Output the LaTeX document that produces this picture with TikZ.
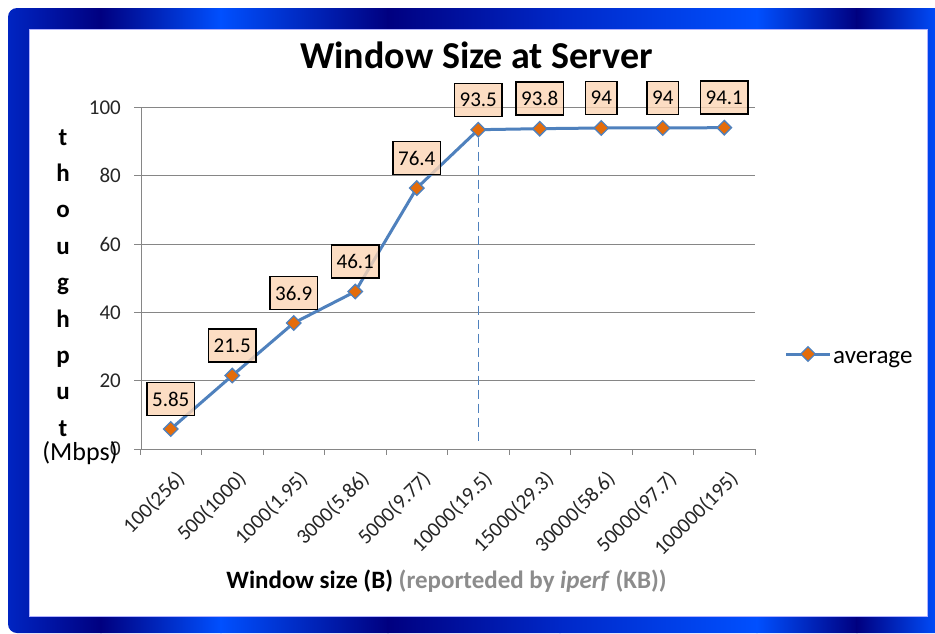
\documentclass[tikz,border=0pt]{standalone}
\usepackage{fontspec}
\setmainfont{Carlito}
\usetikzlibrary{shapes.geometric}
\definecolor{fdark}{HTML}{000080}
\definecolor{fbright}{HTML}{0050FF}
\definecolor{fmid}{HTML}{0028C8}
\definecolor{xlblue}{HTML}{4F81BD}
\definecolor{xlorange}{HTML}{E46C0A}
\definecolor{xlpeach}{HTML}{FCD5B5}
\definecolor{gridgray}{HTML}{868686}
\definecolor{titlegray}{HTML}{8C8C8C}
\definecolor{ticktext}{HTML}{262626}
\begin{document}
\begin{tikzpicture}[x=1pt,y=-1pt,
  marker/.style={diamond, draw=xlblue, fill=xlorange, line width=1.3pt, inner sep=0pt, minimum width=15pt, minimum height=15pt},
  datalabel/.style={draw=black, line width=1.4pt, fill=xlpeach, fill opacity=0.8, text opacity=1, font=\fontsize{21}{21}\selectfont, inner xsep=5pt, inner ysep=0pt, minimum height=33pt},
  gridline/.style={gridgray, line width=0.9pt},
  ytick/.style={anchor=east, inner sep=0pt, text=ticktext, font=\fontsize{21}{21}\selectfont},
  xtick/.style={anchor=north east, inner sep=0pt, rotate=45, text=ticktext, font=\fontsize{21}{21}\selectfont},
  ytitle/.style={anchor=base, inner sep=0pt, font=\fontsize{25}{25}\selectfont\bfseries},
  series/.style={xlblue, line width=3pt, line join=round}
]
\useasboundingbox (0,0) rectangle (935,633);
% blue frame
\begin{scope}
\clip[rounded corners=9pt] (8,8) rectangle (960,633);
\foreach \xa/\xb/\ca/\cb in {0/101/fmid/fdark, 101/221/fdark/fbright, 221/388/fbright/fdark, 388/560/fdark/fmid, 560/757/fmid/fbright, 757/857/fbright/fdark, 857/940/fdark/fbright}
  {\shade[left color=\ca, right color=\cb] (\xa-0.6,0) rectangle (\xb+0.6,640);}
\end{scope}
\fill[white] (29,29) rectangle (927,616);
\draw[blue!30!white, line width=1pt] (29,29) rectangle (927,616);
% title
\node[anchor=base, inner sep=0pt, font=\fontsize{38}{38}\selectfont\bfseries] (title) at (476.5,68) {Window Size at Server};
% grid and axes
\foreach \v in {20,40,60,80,100}{
  \draw[gridline] (134,{449-3.415*\v}) -- (755,{449-3.415*\v});
}
\foreach \v in {0,20,40,60,80,100}{
  \node[ytick] (yt\v) at (121,{449-3.415*\v}) {\v};
}
\draw[gridline] (141,449) -- (141,{449-3.415*100});
\draw[gridline] (134,449) -- (755,449);
\foreach \k in {0,...,10}{
  \draw[gridline] ({140+61.5*\k},449) -- ({140+61.5*\k},455);
}
% y axis title
\foreach \c [count=\j from 0] in {t,h,o,u,g,h,p,u,t}{
  \node[ytitle] (yl\j) at (63,{145+36.4*\j}) {\c};
}
\node[anchor=base, inner sep=0pt, font=\fontsize{26}{26}\selectfont] (mbps) at (80,460) {(Mbps)};
% data
\foreach \i/\v in {1/5.85,2/21.5,3/36.9,4/46.1,5/76.4,6/93.5,7/93.8,8/94,9/94,10/94.1}{
  \coordinate (p\i) at ({140+61.5*(\i-0.5)},{449-3.415*\v});
}
\draw[xlblue, line width=1.5pt, dash pattern=on 9pt off 5pt] (p6) ++(0,8) coordinate (dtop) -- (p6 |- 0,442) coordinate (dbot);
\draw[series] (p1) -- (p2) -- (p3) -- (p4) -- (p5) -- (p6) -- (p7) -- (p8) -- (p9) -- (p10);
\foreach \i/\v in {1/5.85,2/21.5,3/36.9,4/46.1,5/76.4,6/93.5,7/93.8,8/94,9/94,10/94.1}{
  \node[marker] (m\i) at (p\i) {};
  \node[datalabel] (l\i) at ([yshift=30pt]p\i) {\v};
}
% x tick labels
\foreach \i/\t in {1/100(256),2/500(1000),3/1000(1.95),4/3000(5.86),5/5000(9.77),6/10000(19.5),7/15000(29.3),8/30000(58.6),9/50000(97.7),10/100000(195)}{
  \node[xtick] (xt\i) at ({140+61.5*(\i-0.5)+4},469) {\t};
}
% x axis title
\node[anchor=base, inner sep=0pt, font=\fontsize{25}{25}\selectfont\bfseries] (xtitle) at (446.5,588)
  {Window size (B) \textcolor{titlegray}{(reporteded by \textit{iperf} (KB))}};
% legend
\coordinate (lga) at (786,354);
\coordinate (lgb) at (830,354);
\draw[series] (lga) -- (lgb);
\node[marker] (lgm) at (808,354) {};
\node[anchor=base west, inner sep=0pt, font=\fontsize{25}{25}\selectfont] (lgt) at (833,363) {average};
\end{tikzpicture}
\end{document}
